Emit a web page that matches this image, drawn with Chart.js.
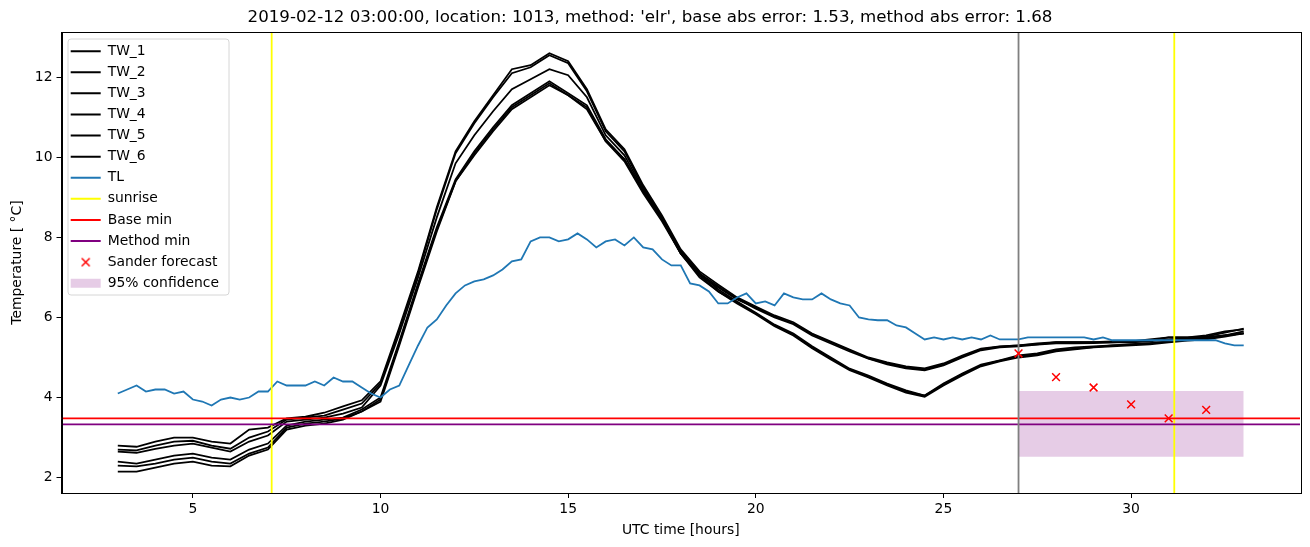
<!DOCTYPE html>
<html>
<head>
<meta charset="utf-8">
<script src="https://cdn.jsdelivr.net/npm/chart.js@4.4.0/dist/chart.umd.min.js"></script>
<style>
  html, body { margin: 0; padding: 0; background: #fff; }
  #wrap { width: 1310px; height: 547px; }
</style>
</head>
<body>
<div id="wrap"><canvas id="chart" width="1310" height="547"></canvas></div>
<script>
const TITLE = "2019-02-12 03:00:00, location: 1013, method: 'elr', base abs error: 1.53, method abs error: 1.68";
const FONT = "'DejaVu Sans', sans-serif";

// axis limits and ticks
const X_MIN = 1.5, X_MAX = 34.5;
const Y_MIN = 1.615, Y_MAX = 13.13;
const xTicks = [5, 10, 15, 20, 25, 30];
const yTicks = [2, 4, 6, 8, 10, 12];

// time grids (UTC hours)
const hoursTW = [];
for (let h = 3; h <= 33.001; h += 0.5) hoursTW.push(+h.toFixed(2));
const hoursTL = [];
for (let h = 3; h <= 33.001; h += 0.25) hoursTL.push(+h.toFixed(2));

// wet-bulb sensors, every half hour from 03:00
const TW_1 = [2.8, 2.77, 2.9, 3.0, 3.0, 2.9, 2.85, 3.2, 3.25, 3.48, 3.52, 3.62, 3.78, 3.93,
  4.4, 5.75, 7.15, 8.75, 10.15, 10.9, 11.55, 12.2,
  12.3, 12.6, 12.4, 11.7, 10.7, 10.2, 9.3, 8.55, 7.7, 7.15,
  6.82, 6.5, 6.27, 6.05, 5.88, 5.6, 5.4, 5.2, 5.0, 4.88, 4.78, 4.73, 4.85, 5.05, 5.22, 5.28, 5.3,
  5.35, 5.38, 5.38, 5.38, 5.4, 5.4, 5.45, 5.5, 5.5, 5.52, 5.62, 5.72];
const TW_2 = [2.7, 2.68, 2.8, 2.9, 2.92, 2.8, 2.72, 3.0, 3.15, 3.45, 3.5, 3.55, 3.7, 3.85,
  4.35, 5.7, 7.1, 8.7, 10.1, 10.85, 11.5, 12.1,
  12.25, 12.55, 12.35, 11.65, 10.65, 10.15, 9.25, 8.5, 7.65, 7.1,
  6.7, 6.4, 6.12, 5.82, 5.6, 5.28, 5.0, 4.72, 4.55, 4.35, 4.18, 4.05, 4.35, 4.6, 4.82, 4.93, 5.05,
  5.1, 5.2, 5.25, 5.28, 5.3, 5.33, 5.36, 5.4, 5.45, 5.48, 5.55, 5.65];
const TW_3 = [2.65, 2.62, 2.72, 2.8, 2.85, 2.75, 2.65, 2.9, 3.05, 3.4, 3.45, 3.5, 3.6, 3.75,
  4.3, 5.6, 7.0, 8.5, 9.85, 10.55, 11.15, 11.7,
  11.95, 12.2, 12.05, 11.5, 10.55, 10.05, 9.2, 8.5, 7.65, 7.1,
  6.78, 6.47, 6.22, 6.0, 5.83, 5.55, 5.35, 5.15, 4.97, 4.83, 4.73, 4.68, 4.8, 5.0, 5.18, 5.25, 5.28,
  5.32, 5.35, 5.35, 5.36, 5.38, 5.38, 5.4, 5.45, 5.48, 5.5, 5.55, 5.6];
const TW_4 = [2.4, 2.35, 2.45, 2.55, 2.6, 2.5, 2.45, 2.7, 2.85, 3.3, 3.4, 3.45, 3.5, 3.7,
  4.0, 5.4, 6.85, 8.25, 9.45, 10.15, 10.75, 11.3,
  11.6, 11.9, 11.6, 11.3, 10.45, 9.95, 9.15, 8.45, 7.6, 7.05,
  6.65, 6.35, 6.08, 5.78, 5.55, 5.23, 4.95, 4.68, 4.5, 4.3, 4.12, 4.02, 4.3, 4.55, 4.78, 4.9, 5.0,
  5.05, 5.15, 5.2, 5.25, 5.28, 5.3, 5.33, 5.38, 5.42, 5.45, 5.52, 5.6];
const TW_5 = [2.3, 2.28, 2.35, 2.45, 2.5, 2.4, 2.35, 2.6, 2.75, 3.25, 3.35, 3.4, 3.48, 3.65,
  3.95, 5.35, 6.8, 8.2, 9.4, 10.1, 10.7, 11.25,
  11.55, 11.85, 11.55, 11.25, 10.4, 9.95, 9.15, 8.45, 7.6, 7.05,
  6.75, 6.45, 6.25, 6.02, 5.85, 5.58, 5.38, 5.18, 4.98, 4.85, 4.75, 4.7, 4.82, 5.02, 5.2, 5.27, 5.3,
  5.33, 5.38, 5.38, 5.38, 5.38, 5.4, 5.42, 5.5, 5.5, 5.55, 5.65, 5.7];
const TW_6 = [2.15, 2.15, 2.25, 2.35, 2.4, 2.3, 2.28, 2.55, 2.7, 3.2, 3.3, 3.35, 3.45, 3.65,
  3.9, 5.3, 6.75, 8.15, 9.4, 10.05, 10.65, 11.2,
  11.5, 11.8, 11.55, 11.2, 10.4, 9.9, 9.1, 8.4, 7.6, 7.0,
  6.65, 6.38, 6.1, 5.8, 5.58, 5.25, 4.98, 4.7, 4.52, 4.33, 4.15, 4.05, 4.32, 4.58, 4.8, 4.92, 5.02,
  5.08, 5.18, 5.22, 5.26, 5.3, 5.32, 5.35, 5.4, 5.45, 5.5, 5.55, 5.6];

// air temperature, every quarter hour from 03:00
const TL = [
  4.1, 4.2, 4.3, 4.15, 4.2, 4.2, 4.1, 4.15,
  3.95, 3.9, 3.8, 3.95, 4.0, 3.95, 4.0, 4.15,
  4.15, 4.4, 4.3, 4.3, 4.3, 4.4, 4.3, 4.5,
  4.4, 4.4, 4.25, 4.1, 4.0, 4.2, 4.3, 4.8,
  5.3, 5.75, 5.95, 6.3, 6.6, 6.8, 6.9, 6.95,
  7.05, 7.2, 7.4, 7.45, 7.9, 8.0, 8.0, 7.9,
  7.95, 8.1, 7.95, 7.75, 7.9, 7.95, 7.8, 8.0,
  7.75, 7.7, 7.45, 7.3, 7.3, 6.85, 6.8, 6.65,
  6.35, 6.35, 6.5, 6.6, 6.35, 6.4, 6.3, 6.6,
  6.5, 6.45, 6.45, 6.6, 6.45, 6.35, 6.3, 6.0,
  5.95, 5.93, 5.93, 5.8, 5.75, 5.6, 5.45, 5.5,
  5.45, 5.5, 5.45, 5.5, 5.45, 5.55, 5.45, 5.45,
  5.45, 5.5, 5.5, 5.5, 5.5, 5.5, 5.5, 5.5,
  5.45, 5.5, 5.43, 5.43, 5.43, 5.43, 5.43, 5.43,
  5.43, 5.43, 5.43, 5.43, 5.43, 5.43, 5.35, 5.3,
  5.3];

const sunriseHours = [7.1, 31.15];
const forecastStart = 27;
const baseMin = 3.48;
const methodMin = 3.33;
const sanderHours = [27, 28, 29, 30, 31, 32];
const sanderTemp = [5.1, 4.51, 4.25, 3.83, 3.48, 3.69];
const confHours = [27, 33];
const confLow = 2.52, confHigh = 4.16;

const toXY = (xs, ys) => xs.map((x, i) => ({x: x, y: ys[i]}));

function vlines(hs) {
  const pts = [];
  hs.forEach((h, i) => {
    if (i) pts.push({x: h, y: null});
    pts.push({x: h, y: Y_MIN}, {x: h, y: Y_MAX});
  });
  return pts;
}

function lineDs(label, data, color) {
  return {
    label: label, data: data,
    borderColor: color, backgroundColor: color,
    borderWidth: 1.8, pointRadius: 0, tension: 0, fill: false, spanGaps: false
  };
}

// small red "x" used as the legend marker of the forecast points
const crossIcon = document.createElement('canvas');
crossIcon.width = 11; crossIcon.height = 11;
(function () {
  const c = crossIcon.getContext('2d');
  c.strokeStyle = '#ff0000';
  c.lineWidth = 1.5;
  c.beginPath();
  c.moveTo(1.5, 1.5); c.lineTo(9.5, 9.5);
  c.moveTo(9.5, 1.5); c.lineTo(1.5, 9.5);
  c.stroke();
})();

const twSeries = [TW_1, TW_2, TW_3, TW_4, TW_5, TW_6];
const datasets = twSeries.map((vals, i) => lineDs('TW_' + (i + 1), toXY(hoursTW, vals), '#000000'));
datasets.push(lineDs('TL', toXY(hoursTL, TL), '#1f77b4'));
datasets.push(lineDs('sunrise', vlines(sunriseHours), '#ffff00'));
datasets.push(lineDs('Base min', [{x: X_MIN, y: baseMin}, {x: X_MAX, y: baseMin}], '#ff0000'));
datasets.push(lineDs('Method min', [{x: X_MIN, y: methodMin}, {x: X_MAX, y: methodMin}], '#800080'));
datasets.push({
  label: 'Sander forecast', data: toXY(sanderHours, sanderTemp),
  showLine: false, pointStyle: 'crossRot', pointRadius: 5.5,
  pointBorderColor: '#ff0000', pointBackgroundColor: '#ff0000', pointBorderWidth: 1.5,
  borderColor: '#ff0000', backgroundColor: '#ff0000'
});
datasets.push({
  label: '95% confidence', data: toXY(confHours, [confHigh, confHigh]),
  fill: {value: confLow}, backgroundColor: 'rgba(128,0,128,0.2)',
  borderColor: 'rgba(0,0,0,0)', borderWidth: 1, pointRadius: 0, order: 100
});
const vline = lineDs('forecast start', vlines([forecastStart]), '#808080');
vline.hideInLegend = true;
vline.order = -9.5;
datasets.push(vline);
datasets.forEach((d, i) => { if (d.order === undefined) d.order = -i; });

// legend frame, legend placement + top/right spines
const framePlugin = {
  id: 'frame',
  beforeDraw(chart) {
    const {ctx, chartArea: a} = chart;
    const lg = chart.legend;
    lg.top = a.top + 5;
    lg.bottom = a.bottom;
    lg.left = a.left + 2;
    const x = a.left + 6.5, y = a.top + 7, w = 161, h = 256, r = 3;
    ctx.save();
    ctx.beginPath();
    ctx.moveTo(x + r, y);
    ctx.arcTo(x + w, y, x + w, y + h, r);
    ctx.arcTo(x + w, y + h, x, y + h, r);
    ctx.arcTo(x, y + h, x, y, r);
    ctx.arcTo(x, y, x + w, y, r);
    ctx.closePath();
    ctx.fillStyle = 'rgba(255,255,255,0.8)';
    ctx.fill();
    ctx.strokeStyle = '#d6d6d6';
    ctx.lineWidth = 1;
    ctx.stroke();
    ctx.restore();
  },
  afterDatasetsDraw(chart) {
    const {ctx, chartArea: a} = chart;
    ctx.save();
    ctx.strokeStyle = '#000';
    ctx.lineWidth = 1;
    ctx.strokeRect(Math.round(a.left) + 0.5, Math.round(a.top) + 0.5,
      Math.round(a.right - a.left), Math.round(a.bottom - a.top));
    ctx.restore();
  }
};

const tickFont = {family: FONT, size: 13.9};

new Chart(document.getElementById('chart').getContext('2d'), {
  type: 'line',
  data: {datasets: datasets},
  options: {
    responsive: false,
    animation: false,
    events: [],
    layout: {padding: {left: 0, right: 10, top: 0, bottom: 0}},
    plugins: {
      title: {
        display: true, text: TITLE, color: '#000',
        font: {family: FONT, size: 16.67, weight: 'normal', lineHeight: 1.2},
        padding: {top: 8, bottom: 4}
      },
      tooltip: {enabled: false},
      legend: {
        position: 'chartArea',
        align: 'start',
        labels: {
          usePointStyle: true,
          pointStyleWidth: 30,
          boxHeight: 9,
          padding: 7.2,
          color: '#000',
          font: {family: FONT, size: 13.9},
          filter: (item, data) => !data.datasets[item.datasetIndex].hideInLegend,
          sort: (a, b) => a.datasetIndex - b.datasetIndex,
          generateLabels(chart) {
            const items = Chart.defaults.plugins.legend.labels.generateLabels(chart);
            items.forEach(it => {
              const ds = chart.data.datasets[it.datasetIndex];
              if (ds.showLine === false) {
                it.pointStyle = crossIcon;
                it.lineWidth = 0;
              } else if (ds.fill) {
                it.pointStyle = 'rect';
                it.fillStyle = ds.backgroundColor;
                it.strokeStyle = 'rgba(0,0,0,0)';
                it.lineWidth = 0;
              } else {
                it.pointStyle = 'line';
                it.strokeStyle = ds.borderColor;
                it.lineWidth = 2;
              }
              it.hidden = false;
            });
            return items;
          }
        }
      }
    },
    scales: {
      x: {
        type: 'linear', min: X_MIN, max: X_MAX,
        afterBuildTicks: s => { s.ticks = xTicks.map(v => ({value: v})); },
        afterFit: s => { s.height = 54; },
        grid: {drawOnChartArea: false, drawTicks: true, tickLength: 5, tickColor: '#000', tickWidth: 1},
        border: {display: true, color: '#000', width: 1},
        ticks: {color: '#000', font: tickFont, padding: 3, maxRotation: 0, autoSkip: false},
        title: {display: true, text: 'UTC time [hours]', color: '#000', font: tickFont, padding: {top: 0, bottom: 8.7}}
      },
      y: {
        type: 'linear', min: Y_MIN, max: Y_MAX,
        afterBuildTicks: s => { s.ticks = yTicks.map(v => ({value: v})); },
        afterFit: s => { s.width = 61.5; },
        grid: {drawOnChartArea: false, drawTicks: true, tickLength: 5, tickColor: '#000', tickWidth: 1},
        border: {display: true, color: '#000', width: 1},
        ticks: {color: '#000', font: tickFont, padding: 4, autoSkip: false},
        title: {display: true, text: 'Temperature [ °C]', color: '#000', font: tickFont, padding: {top: 9.2, bottom: 0}}
      }
    }
  },
  plugins: [framePlugin]
});
</script>
</body>
</html>
